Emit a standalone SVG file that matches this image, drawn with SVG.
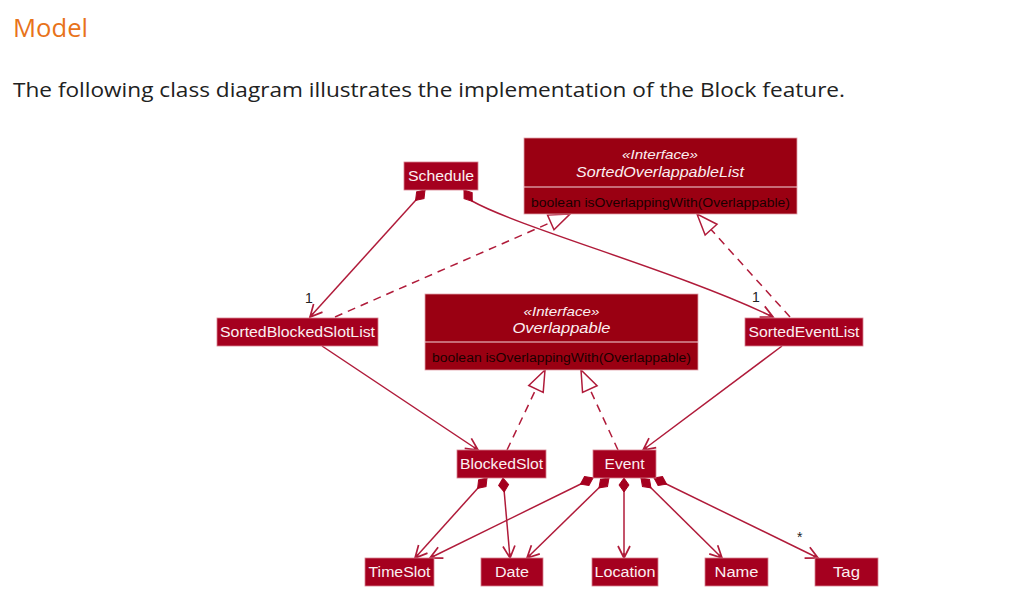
<svg xmlns="http://www.w3.org/2000/svg" width="1030" height="610" viewBox="0 0 1030 610">
<style>
.box{fill:#A5001F;stroke:#d8808f;stroke-width:0.8}
.ibox{fill:#9A0012;stroke:#e0a0aa;stroke-width:0.8}
.div{stroke:#f4d8dc;stroke-width:1}
.lbl{font-family:"Liberation Sans",Arial,sans-serif;font-size:14px;fill:#FBEFF1;text-anchor:middle}
.it{font-family:"Liberation Sans",Arial,sans-serif;font-size:14px;fill:#FBEFF1;text-anchor:middle;font-style:italic}
.st{font-family:"Liberation Sans",Arial,sans-serif;font-size:13px;fill:#FBEFF1;text-anchor:middle;font-style:italic}
.meth{font-family:"Liberation Sans",Arial,sans-serif;font-size:12.5px;fill:#1a0000;text-anchor:start}
.ln{fill:none;stroke:#B01B3A;stroke-width:1.5}
.dash{stroke-dasharray:8,6}
.mul{font-family:"Liberation Sans",Arial,sans-serif;font-size:14px;fill:#222}
</style>
<defs>
<marker id="arr" markerUnits="userSpaceOnUse" viewBox="-14 -8 16 16" markerWidth="16" markerHeight="16" refX="0" refY="0" orient="auto" overflow="visible">
<path d="M-12,-6 L0,0 L-12,6 M0,0 L-5,0" fill="none" stroke="#B01B3A" stroke-width="1.7"/>
</marker>
<marker id="tri" markerUnits="userSpaceOnUse" viewBox="-23 -10 25 20" markerWidth="25" markerHeight="20" refX="0" refY="0" orient="auto" overflow="visible">
<path d="M0,0 L-21,-8 L-21,8 Z" fill="#ffffff" stroke="#B01B3A" stroke-width="1.5"/>
</marker>
<marker id="dia" markerUnits="userSpaceOnUse" viewBox="-1 -6 16 12" markerWidth="16" markerHeight="12" refX="0" refY="0" orient="auto" overflow="visible">
<path d="M0,0 L7,-5 L14,0 L7,5 Z" fill="#A5001F" stroke="#A5001F" stroke-width="1"/>
</marker>
</defs>
<rect width="1030" height="610" fill="#ffffff"/>
<text x="13" y="37" font-family="'Open Sans','Noto Sans',sans-serif" font-size="25" fill="#E8731A" textLength="75" lengthAdjust="spacingAndGlyphs">Model</text>
<text x="13" y="97" font-family="'Open Sans','Noto Sans',sans-serif" font-size="20" fill="#212121" textLength="832" lengthAdjust="spacingAndGlyphs">The following class diagram illustrates the implementation of the Block feature.</text>

<g id="connectors">
<path class="ln" d="M425,190 L310,317" marker-start="url(#dia)" marker-end="url(#arr)"/>
<path class="ln" d="M464,190 L472,201 C520,228 680,272 773,317" marker-start="url(#dia)" marker-end="url(#arr)"/>
<path class="ln dash" d="M335,317 L570,214" marker-end="url(#tri)"/>
<path class="ln dash" d="M790,317 L697,214" marker-end="url(#tri)"/>
<path class="ln" d="M322,346 L478,450" marker-end="url(#arr)"/>
<path class="ln" d="M782,346 L643,450" marker-end="url(#arr)"/>
<path class="ln dash" d="M507,450 L545,370" marker-end="url(#tri)"/>
<path class="ln dash" d="M618,450 L581,370" marker-end="url(#tri)"/>
<path class="ln" d="M487,478 L415,558" marker-start="url(#dia)" marker-end="url(#arr)"/>
<path class="ln" d="M503,478 L510,558" marker-start="url(#dia)" marker-end="url(#arr)"/>
<path class="ln" d="M593,478 L430,558" marker-start="url(#dia)" marker-end="url(#arr)"/>
<path class="ln" d="M609,478 L527,558" marker-start="url(#dia)" marker-end="url(#arr)"/>
<path class="ln" d="M624,478 L624,558" marker-start="url(#dia)" marker-end="url(#arr)"/>
<path class="ln" d="M641,478 L722,558" marker-start="url(#dia)" marker-end="url(#arr)"/>
<path class="ln" d="M654,478 L818,558" marker-start="url(#dia)" marker-end="url(#arr)"/>
<text class="mul" x="305" y="303">1</text>
<text class="mul" x="752" y="302">1</text>
<text class="mul" x="797" y="542">*</text>
</g>

<g id="Schedule">
<rect class="box" x="404" y="162" width="74" height="28"/>
<text class="lbl" x="441" y="181" textLength="66" lengthAdjust="spacingAndGlyphs">Schedule</text>
</g>
<g id="SortedOverlappableList">
<rect class="ibox" x="524" y="138" width="273" height="76"/>
<line class="div" x1="524" y1="187" x2="797" y2="187"/>
<text class="st" x="660" y="159" textLength="76" lengthAdjust="spacingAndGlyphs">«Interface»</text>
<text class="it" x="660" y="177" textLength="168" lengthAdjust="spacingAndGlyphs">SortedOverlappableList</text>
<text class="meth" x="531" y="207" textLength="259" lengthAdjust="spacingAndGlyphs">boolean isOverlappingWith(Overlappable)</text>
</g>
<g id="SortedBlockedSlotList">
<rect class="box" x="217" y="318" width="161" height="28"/>
<text class="lbl" x="297.5" y="337" textLength="155" lengthAdjust="spacingAndGlyphs">SortedBlockedSlotList</text>
</g>
<g id="Overlappable">
<rect class="ibox" x="425" y="294" width="273" height="76"/>
<line class="div" x1="425" y1="342" x2="698" y2="342"/>
<text class="st" x="561.5" y="316" textLength="76" lengthAdjust="spacingAndGlyphs">«Interface»</text>
<text class="it" x="561.5" y="333" textLength="98" lengthAdjust="spacingAndGlyphs">Overlappable</text>
<text class="meth" x="432" y="362" textLength="259" lengthAdjust="spacingAndGlyphs">boolean isOverlappingWith(Overlappable)</text>
</g>
<g id="SortedEventList">
<rect class="box" x="745" y="318" width="118" height="28"/>
<text class="lbl" x="804" y="337" textLength="111" lengthAdjust="spacingAndGlyphs">SortedEventList</text>
</g>
<g id="BlockedSlot">
<rect class="box" x="457" y="450" width="89" height="28"/>
<text class="lbl" x="501.5" y="469" textLength="83" lengthAdjust="spacingAndGlyphs">BlockedSlot</text>
</g>
<g id="Event">
<rect class="box" x="593" y="450" width="63" height="28"/>
<text class="lbl" x="624.5" y="469" textLength="40" lengthAdjust="spacingAndGlyphs">Event</text>
</g>
<g id="TimeSlot">
<rect class="box" x="365" y="558" width="69" height="28"/>
<text class="lbl" x="399.5" y="577" textLength="62" lengthAdjust="spacingAndGlyphs">TimeSlot</text>
</g>
<g id="Date">
<rect class="box" x="481" y="558" width="62" height="28"/>
<text class="lbl" x="512" y="577" textLength="34" lengthAdjust="spacingAndGlyphs">Date</text>
</g>
<g id="Location">
<rect class="box" x="592" y="558" width="66" height="28"/>
<text class="lbl" x="625" y="577" textLength="61" lengthAdjust="spacingAndGlyphs">Location</text>
</g>
<g id="Name">
<rect class="box" x="705" y="558" width="63" height="28"/>
<text class="lbl" x="736.5" y="577" textLength="44" lengthAdjust="spacingAndGlyphs">Name</text>
</g>
<g id="Tag">
<rect class="box" x="815" y="558" width="63" height="28"/>
<text class="lbl" x="846.5" y="577" textLength="27" lengthAdjust="spacingAndGlyphs">Tag</text>
</g>
</svg>
